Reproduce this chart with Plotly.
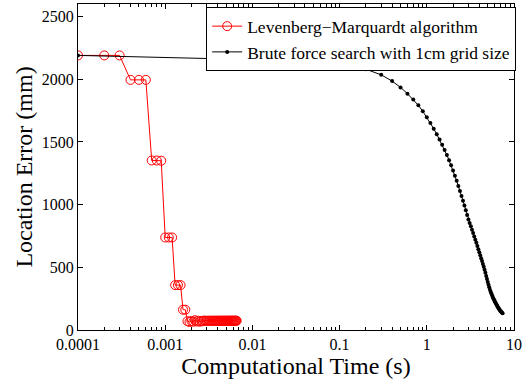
import plotly.graph_objects as go

# Levenberg-Marquardt: computation time (s) vs location error (mm)
lm_time = [0.0001, 0.0002, 0.0003, 0.0004, 0.0005, 0.0006, 0.0007, 0.0008, 0.0009, 0.0010,
           0.0011, 0.0012, 0.0013, 0.0014, 0.0015, 0.0016, 0.0017, 0.0018, 0.0019, 0.0020,
           0.0021, 0.0022, 0.0023, 0.0024, 0.0025, 0.0026, 0.0027, 0.0028, 0.0029, 0.0030,
           0.0031, 0.0032, 0.0033, 0.0034, 0.0035, 0.0036, 0.0037, 0.0038, 0.0039, 0.0040,
           0.0041, 0.0042, 0.0043, 0.0044, 0.0045, 0.0046, 0.0047, 0.0048, 0.0049, 0.0050,
           0.0051, 0.0052, 0.0053, 0.0054, 0.0055, 0.0056, 0.0057, 0.0058, 0.0059, 0.0060,
           0.0061, 0.0062, 0.0063, 0.0064, 0.0065, 0.0066]
lm_error = [2190, 2190, 2190, 1995, 1995, 1995, 1352, 1352, 1350, 738,
            738, 738, 358, 358, 358, 162, 162, 70, 64, 72,
            66, 78, 68, 74, 66, 72, 70, 76, 72, 74,
            74, 74, 74, 74, 74, 74, 74, 74, 74, 74,
            74, 74, 74, 74, 74, 74, 74, 74, 74, 74,
            74, 74, 74, 74, 74, 74, 74, 74, 74, 74,
            74, 74, 74, 74, 74, 74]

# Brute force search with 1 cm grid size
bf_time = [0.0001, 0.1, 0.2, 0.3, 0.4, 0.5, 0.6, 0.7, 0.8, 0.9, 1.0,
           1.1, 1.2, 1.3, 1.4, 1.5, 1.6, 1.7, 1.8, 1.9, 2.0,
           2.1, 2.2, 2.3, 2.4, 2.5, 2.6, 2.7, 2.8, 2.9, 3.0,
           3.1, 3.2, 3.3, 3.4, 3.5, 3.6, 3.7, 3.8, 3.9, 4.0,
           4.1, 4.2, 4.3, 4.4, 4.5, 4.6, 4.7, 4.8, 4.9, 5.0,
           5.1, 5.2, 5.3, 5.4, 5.5, 5.6, 5.7, 5.8, 5.9, 6.0,
           6.1, 6.2, 6.3, 6.4, 6.5, 6.6, 6.7, 6.8, 6.9, 7.0,
           7.1, 7.2, 7.3, 7.4]
bf_error = [2190, 2140, 2080, 2035, 1985, 1935, 1885, 1838, 1792, 1744, 1697,
            1651, 1606, 1562, 1519, 1477, 1436, 1395, 1354, 1313, 1272,
            1231, 1190, 1149, 1109, 1069, 1030, 992, 955, 918, 882,
            854, 827, 800, 773, 746, 720, 695, 670, 645, 621,
            597, 573, 550, 527, 505, 480, 456, 431, 407, 383,
            360, 340, 322, 306, 291, 277, 264, 252, 241, 231,
            221, 212, 203, 194, 186, 178, 171, 164, 158, 152,
            147, 142, 138, 134]

x_range_log = [-4, 1]
y_range = [0, 2600]

FONT = "Liberation Serif, Times New Roman, serif"

fig = go.Figure()
fig.add_trace(go.Scatter(
    x=lm_time, y=lm_error, mode="lines+markers",
    name="Levenberg\u2212Marquardt algorithm",
    line=dict(color="#ff0000", width=1),
    marker=dict(symbol="circle-open", size=9, color="#ff0000", line=dict(width=1, color="#ff0000")),
))
fig.add_trace(go.Scatter(
    x=bf_time, y=bf_error, mode="lines+markers",
    name="Brute force search with 1cm grid size",
    line=dict(color="#000000", width=1),
    marker=dict(symbol="circle", size=4, color="#000000"),
))

fig.update_layout(
    width=532, height=382,
    margin=dict(l=78, r=18, t=4, b=52),
    paper_bgcolor="white", plot_bgcolor="white",
    font=dict(family=FONT, size=16, color="black"),
    showlegend=True,
    legend=dict(
        x=0.294, y=0.99, xanchor="left", yanchor="top",
        bgcolor="white", bordercolor="black", borderwidth=1,
        font=dict(family=FONT, size=17.5, color="black"),
        itemwidth=30, tracegroupgap=0,
    ),
)
fig.update_xaxes(
    type="log", range=x_range_log, dtick=1, tickformat="~g",
    ticks="inside", ticklen=5, tickcolor="black",
    showline=True, linecolor="black", linewidth=1, mirror="allticks",
    showgrid=False, zeroline=False,
    minor=dict(ticks="inside", ticklen=3, tickcolor="black", dtick="D1", showgrid=False),
    title=dict(text="Computational Time (s)", font=dict(family=FONT, size=24), standoff=0),
    tickfont=dict(family=FONT, size=16),
)
fig.update_yaxes(
    range=y_range, dtick=500,
    ticks="inside", ticklen=5, tickcolor="black",
    showline=True, linecolor="black", linewidth=1, mirror="allticks",
    showgrid=False, zeroline=False,
    title=dict(text="Location Error (mm)", font=dict(family=FONT, size=24), standoff=2),
    tickfont=dict(family=FONT, size=16),
)

fig.write_html("out.html")
